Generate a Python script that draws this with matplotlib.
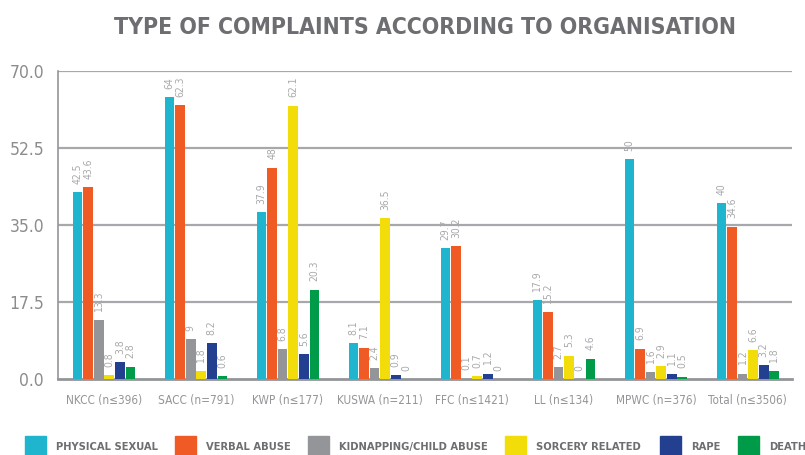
import numpy as np
import matplotlib.pyplot as plt
from matplotlib.patches import Rectangle

categories = ["NKCC (n≤396)", "SACC (n=791)", "KWP (n≤177)", "KUSWA (n=211)",
              "FFC (n≤1421)", "LL (n≤134)", "MPWC (n=376)", "Total (n≤3506)"]
series_names = ["PHYSICAL SEXUAL", "VERBAL ABUSE", "KIDNAPPING/CHILD ABUSE",
                "SORCERY RELATED", "RAPE", "DEATH"]
physical_sexual = [42.5, 64, 37.9, 8.1, 29.7, 17.9, 50, 40]
verbal_abuse = [43.6, 62.3, 48, 7.1, 30.2, 15.2, 6.9, 34.6]
kidnapping = [13.3, 9, 6.8, 2.4, 0.1, 2.7, 1.6, 1.2]
sorcery = [0.8, 1.8, 62.1, 36.5, 0.7, 5.3, 2.9, 6.6]
rape = [3.8, 8.2, 5.6, 0.9, 1.2, 0, 1.1, 3.2]
death = [2.8, 0.6, 20.3, 0, 0, 4.6, 0.5, 1.8]
y_ticks = [0, 17.5, 35, 52.5, 70]

series = [physical_sexual, verbal_abuse, kidnapping, sorcery, rape, death]
colors = ["#1fb5cf", "#f05a24", "#939598", "#f2dc0a", "#233f8f", "#009b48"]

plt.rcParams["font.family"] = ["DejaVu Sans"]
plt.rcParams["font.stretch"] = "condensed"

fig = plt.figure(figsize=(8.05, 4.55), dpi=100)
ax = fig.add_axes([58 / 805, 76 / 455, 734 / 805, 308 / 455])

x = np.arange(len(categories))
step = 0.115
width = 0.105
for i, (vals, col) in enumerate(zip(series, colors)):
    pos = x + (i - 2.5) * step
    ax.bar(pos, vals, width=width, color=col, zorder=3)
    # value labels, rotated, above each bar
    for px, v in zip(pos, vals):
        ax.annotate("{:g}".format(v), (px, v), xytext=(0, 6),
                    textcoords="offset points", rotation=90,
                    ha="center", va="bottom", fontsize=7.5,
                    color="#a7a9ac", zorder=4)

ax.set_xlim(-0.5, len(categories) - 0.52)
ax.set_ylim(0, 70)
ax.set_yticks(y_ticks)
ax.set_yticklabels(["{:.1f}".format(t) for t in y_ticks], fontsize=12.5,
                   color="#8a8c8e")
ax.set_xticks(x)
ax.set_xticklabels(categories, fontsize=8.5, color="#939598")
ax.tick_params(axis="both", length=0)
ax.tick_params(axis="x", pad=11)
ax.tick_params(axis="y", pad=10)

for t in y_ticks[1:]:
    ax.axhline(t, color="#a6a8ab", lw=1.6, zorder=1)
for s in ["top", "right"]:
    ax.spines[s].set_visible(False)
ax.spines["left"].set_color("#939598")
ax.spines["left"].set_linewidth(1.2)
ax.spines["bottom"].set_color("#939598")
ax.spines["bottom"].set_linewidth(2)

fig.text(425 / 805, 1 - 27 / 455, "TYPE OF COMPLAINTS ACCORDING TO ORGANISATION",
         ha="center", va="center", fontsize=16.5, fontweight="bold",
         color="#6d6e71")

# legend row at the bottom
sq_x = [25, 175, 308, 505, 660, 738]
for sx, name, col in zip(sq_x, series_names, colors):
    fig.add_artist(Rectangle((sx / 805, 1 - 457 / 455), 21 / 805, 21 / 455,
                             transform=fig.transFigure, color=col,
                             clip_on=False))
    fig.text((sx + 31) / 805, 1 - 447 / 455, name, ha="left", va="center",
             fontsize=8, fontweight="bold", color="#6d6e71")

fig.savefig("out.png", dpi=100)
